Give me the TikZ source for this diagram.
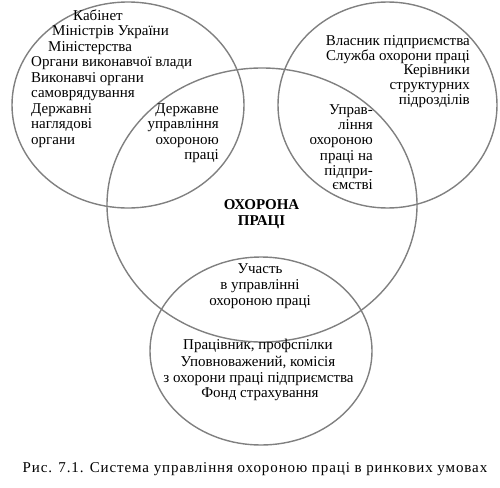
\documentclass[tikz,border=0pt]{standalone}
\usepackage{fontspec}
\setmainfont{Liberation Serif}
\usetikzlibrary{shapes.geometric}
\begin{document}
\begin{tikzpicture}[x=1pt,y=-1pt,
  ring/.style={draw=black!50, line width=1.4pt, ellipse, inner sep=0pt},
  txt/.style={inner sep=0pt, font=\fontsize{15}{15.5}\selectfont},
  lft/.style={txt, anchor=mid west},
  rgt/.style={txt, anchor=mid east},
  ctr/.style={txt, anchor=mid}]
\useasboundingbox (0,0) rectangle (500,487);
% circles
\node[ring, minimum width=232pt, minimum height=206pt] (tl) at (128,105) {};
\node[ring, minimum width=219pt, minimum height=206pt] (tr) at (387.5,105) {};
\node[ring, minimum width=310pt, minimum height=274pt] (big) at (262,205) {};
\node[ring, minimum width=222pt, minimum height=188pt] (bot) at (261,351) {};
% top-left
\node[lft] (a1) at (73,18) {Кабінет};
\node[lft] (a2) at (52,33.5) {Міністрів України};
\node[lft] (a3) at (48,49) {Міністерства};
\node[lft] (a4) at (31,64.5) {Органи виконавчої влади};
\node[lft] (a5) at (31,80) {Виконавчі органи};
\node[lft] (a6) at (31,95.5) {самоврядування};
\node[lft] (a7) at (31,111) {Державні};
\node[lft] (a8) at (31,126.5) {наглядові};
\node[lft] (a9) at (31,142) {органи};
% state management
\node[rgt] (b1) at (219,111) {Державне};
\node[rgt] (b2) at (219,126.5) {управління};
\node[rgt] (b3) at (219,142) {охороною};
\node[rgt] (b4) at (219,157) {праці};
% top-right
\node[rgt] (c1) at (470,43) {Власник підприємства};
\node[rgt] (c2) at (470,58) {Служба охорони праці};
\node[rgt] (c3) at (470,72.5) {Керівники};
\node[rgt] (c4) at (470,87.5) {структурних};
\node[rgt] (c5) at (470,102.5) {підрозділів};
% enterprise management
\node[rgt] (d1) at (373,112) {Управ-};
\node[rgt] (d2) at (373,127) {ління};
\node[rgt] (d3) at (373,142.5) {охороною};
\node[rgt] (d4) at (373,158) {праці на};
\node[rgt] (d5) at (373,173) {підпри-};
\node[rgt] (d6) at (373,187.5) {ємстві};
% centre
\node[ctr, font=\fontsize{15}{15.5}\selectfont\bfseries] (e1) at (261.5,207) {ОХОРОНА};
\node[ctr, font=\fontsize{15}{15.5}\selectfont\bfseries] (e2) at (261.5,223) {ПРАЦІ};
% participation
\node[ctr] (f1) at (260,271) {Участь};
\node[ctr] (f2) at (260,287) {в управлінні};
\node[ctr] (f3) at (260,303) {охороною праці};
% bottom
\node[ctr] (g1) at (258,347) {Працівник, профспілки};
\node[ctr] (g2) at (258,364) {Уповноважений, комісія};
\node[ctr] (g3) at (258.5,380) {з охорони праці підприємства};
\node[ctr] (g4) at (260,395.5) {Фонд страхування};
% caption
\node[ctr, font=\fontsize{15}{15.5}\selectfont\addfontfeatures{LetterSpace=6}] (cap) at (255,470) {Рис. 7.1. Система управління охороною праці в ринкових умовах};
\end{tikzpicture}
\end{document}
